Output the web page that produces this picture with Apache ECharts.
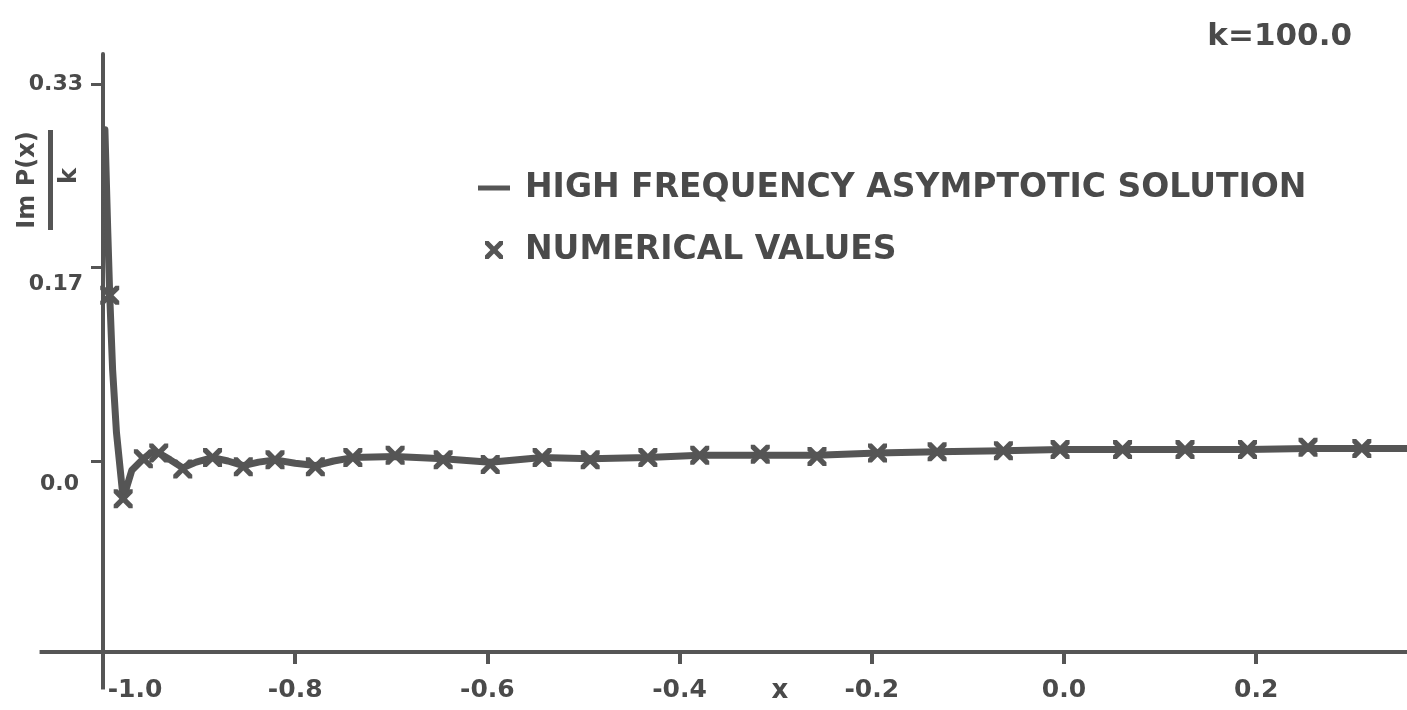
<!DOCTYPE html>
<html>
<head>
<meta charset="utf-8">
<title>Im P(x)/k, k = 100.0</title>
<script src="https://cdn.jsdelivr.net/npm/echarts@6/dist/echarts.min.js"></script>
<style>
  html, body { margin: 0; padding: 0; background: #ffffff; }
  #chart { width: 1407px; height: 710px; }
</style>
</head>
<body>
<div id="chart"></div>
<script>
// High frequency asymptotic solution (solid curve)
const lineX = [-0.998, -0.995, -0.993, -0.990, -0.986, -0.979, -0.970, -0.958, -0.950, -0.942,
               -0.930, -0.917, -0.903, -0.886, -0.870, -0.854, -0.838, -0.821, -0.800, -0.779,
               -0.760, -0.740, -0.696, -0.646, -0.597, -0.543, -0.493, -0.433, -0.379, -0.316,
               -0.257, -0.194, -0.132, -0.063, -0.004, 0.061, 0.126, 0.191, 0.254, 0.357];
const lineY = [0.290, 0.200, 0.145, 0.080, 0.025, -0.033, -0.008, 0.002, 0.007, 0.007,
               0.001, -0.006, -0.001, 0.003, 0.000, -0.004, -0.001, 0.001, -0.002, -0.004,
               0.000, 0.003, 0.004, 0.002, -0.001, 0.003, 0.002, 0.003, 0.005, 0.005,
               0.005, 0.007, 0.008, 0.009, 0.010, 0.010, 0.010, 0.010, 0.011, 0.011];

// Numerical values (crosses)
const markX = [-0.993, -0.979, -0.958, -0.942, -0.917, -0.886, -0.854, -0.821, -0.779, -0.740,
               -0.696, -0.646, -0.597, -0.543, -0.493, -0.433, -0.379, -0.316, -0.257, -0.194,
               -0.132, -0.063, -0.004, 0.061, 0.126, 0.191, 0.254, 0.310];
const markY = [0.145, -0.033, 0.002, 0.007, -0.007, 0.003, -0.005, 0.001, -0.005, 0.003,
               0.005, 0.001, -0.003, 0.003, 0.001, 0.003, 0.005, 0.006, 0.004, 0.007,
               0.008, 0.009, 0.010, 0.010, 0.010, 0.010, 0.012, 0.011];

// Tick labels
const xTicks = [-1.0, -0.8, -0.6, -0.4, -0.2, 0.0, 0.2];
const yTicks = [0.0, 0.17, 0.33];

const SERIES_LINE = 'HIGH FREQUENCY ASYMPTOTIC SOLUTION';
const SERIES_MARK = 'NUMERICAL VALUES';

const INK = '#555555';
const TEXT = '#4a4a4a';
const FONT = '"DejaVu Sans", "Liberation Sans", sans-serif';
const CROSS = 'path://M0,0 L4,0 L10,6 L16,0 L20,0 L20,4 L14,10 L20,16 L20,20 L16,20 L10,14 L4,20 L0,20 L0,16 L6,10 L0,4 Z';

const X_MIN = -1.0, X_MAX = 0.357;
const Y_MIN = -0.1672, Y_MAX = 0.3563;

const chart = echarts.init(document.getElementById('chart'), null, { renderer: 'canvas' });

const option = {
  backgroundColor: '#ffffff',
  animation: false,
  title: {
    text: 'k=100.0',
    right: 50,
    top: 16,
    textStyle: { color: TEXT, fontFamily: FONT, fontWeight: 'bold', fontSize: 31 }
  },
  legend: {
    orient: 'vertical',
    left: 473,
    top: 164,
    itemGap: 24,
    itemWidth: 32,
    itemHeight: 18,
    textStyle: {
      color: TEXT, fontFamily: FONT, fontWeight: 'bold', fontSize: 33,
      lineHeight: 38, padding: [0, 0, 0, 10]
    },
    data: [
      { name: SERIES_LINE, icon: 'path://M0,0 H32 V5 H0 Z' },
      { name: SERIES_MARK, icon: CROSS }
    ]
  },
  grid: { left: 103, right: 0, top: 54, bottom: 58, containLabel: false, outerBoundsMode: 'none' },
  xAxis: {
    type: 'value',
    min: X_MIN,
    max: X_MAX,
    name: 'x',
    nameLocation: 'middle',
    nameGap: 26,
    nameMoveOverlap: false,
    nameTextStyle: { color: TEXT, fontFamily: FONT, fontWeight: 'bold', fontSize: 26, padding: [0, 0, 0, 50] },
    axisLine: { show: true, onZero: false, lineStyle: { color: INK, width: 4 } },
    axisTick: { show: true, customValues: xTicks, length: 12, inside: false, lineStyle: { color: INK, width: 4 } },
    axisLabel: {
      customValues: xTicks,
      margin: 26,
      color: TEXT, fontFamily: FONT, fontWeight: 'bold', fontSize: 25,
      formatter: function (v) {
        const s = Number(v).toFixed(1);
        return Math.abs(v + 1.0) < 1e-9 ? '{first|' + s + '}' : s;
      },
      rich: {
        first: { color: TEXT, fontFamily: FONT, fontWeight: 'bold', fontSize: 25, padding: [0, 0, 0, 64] }
      }
    },
    splitLine: { show: false }
  },
  yAxis: {
    type: 'value',
    min: Y_MIN,
    max: Y_MAX,
    axisLine: { show: true, onZero: false, lineStyle: { color: INK, width: 4 } },
    axisTick: { show: true, customValues: yTicks, length: 12, inside: false, lineStyle: { color: INK, width: 3 } },
    axisLabel: {
      customValues: yTicks,
      margin: 20,
      color: TEXT, fontFamily: FONT, fontWeight: 'bold', fontSize: 22,
      formatter: function (v) {
        if (Math.abs(v) < 1e-9) return '{zero|0.0}';
        if (Math.abs(v - 0.17) < 1e-9) return '{mid|0.17}';
        return '{top|' + v + '}';
      },
      rich: {
        zero: { color: TEXT, fontFamily: FONT, fontWeight: 'bold', fontSize: 22, padding: [46, 4, 0, 0] },
        mid: { color: TEXT, fontFamily: FONT, fontWeight: 'bold', fontSize: 22, padding: [34, 0, 0, 0] },
        top: { color: TEXT, fontFamily: FONT, fontWeight: 'bold', fontSize: 22, padding: [0, 0, 0, 0] }
      }
    },
    splitLine: { show: false }
  },
  series: [
    {
      name: SERIES_LINE,
      type: 'line',
      data: lineX.map((x, i) => [x, lineY[i]]),
      symbol: 'none',
      clip: false,
      z: 3,
      lineStyle: { color: INK, width: 7, join: 'round', cap: 'round' },
      itemStyle: { color: INK }
    },
    {
      name: SERIES_MARK,
      type: 'scatter',
      data: markX.map((x, i) => [x, markY[i]]),
      symbol: CROSS,
      symbolSize: 19,
      clip: false,
      z: 4,
      itemStyle: { color: INK, opacity: 1 }
    }
  ]
};

chart.setOption(option);

// Axis lines run a little past the origin, and the y-axis title is a rotated fraction.
const corner = chart.convertToPixel({ gridIndex: 0 }, [X_MIN, Y_MIN]);
const leftEnd = chart.convertToPixel({ gridIndex: 0 }, [-1.066, Y_MIN]);
const bottomEnd = chart.convertToPixel({ gridIndex: 0 }, [X_MIN, -0.2]);

chart.setOption({
  graphic: [
    {
      type: 'line',
      shape: { x1: leftEnd[0], y1: leftEnd[1], x2: corner[0], y2: corner[1] },
      style: { stroke: INK, lineWidth: 4 },
      z: 5
    },
    {
      type: 'line',
      shape: { x1: corner[0], y1: corner[1], x2: bottomEnd[0], y2: bottomEnd[1] },
      style: { stroke: INK, lineWidth: 4 },
      z: 5
    },
    {
      type: 'group',
      x: 50,
      y: 180,
      rotation: Math.PI / 2,
      children: [
        {
          type: 'text',
          x: 0,
          y: -22,
          style: {
            text: 'Im P(x)',
            fill: TEXT,
            font: 'bold 24px ' + FONT,
            textAlign: 'center',
            textVerticalAlign: 'middle'
          }
        },
        {
          type: 'rect',
          shape: { x: -50, y: -2, width: 100, height: 5 },
          style: { fill: INK }
        },
        {
          type: 'text',
          x: 4,
          y: 20,
          style: {
            text: 'k',
            fill: TEXT,
            font: 'bold 24px ' + FONT,
            textAlign: 'center',
            textVerticalAlign: 'middle'
          }
        }
      ]
    }
  ]
});
</script>
</body>
</html>
